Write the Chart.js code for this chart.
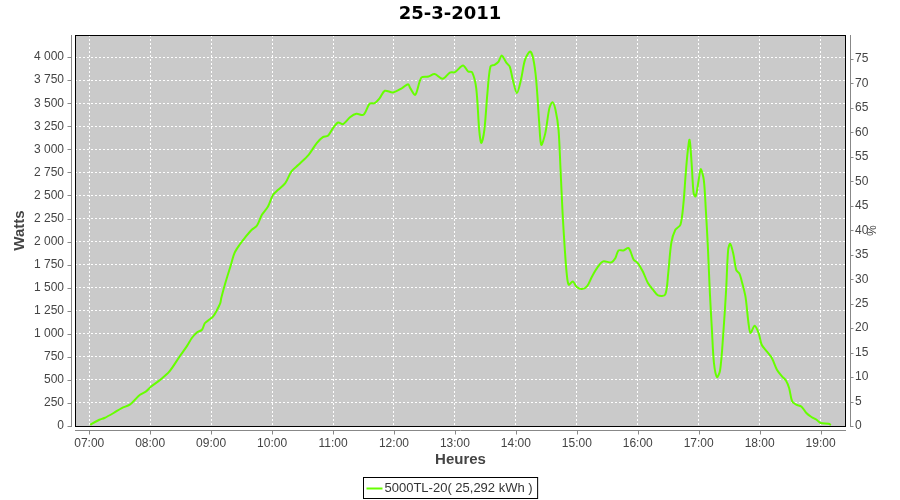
<!DOCTYPE html>
<html>
<head>
<meta charset="utf-8">
<script src="https://cdn.jsdelivr.net/npm/chart.js@4"></script>
<style>
  body { margin: 0; background: #fff; }
  #wrap { width: 900px; height: 500px; }
</style>
</head>
<body>
<div id="wrap"><canvas id="chart"></canvas></div>
<script>
// Production du 25-3-2011 (heure, puissance en watts)
const chartTitle = '25-3-2011';
const seriesLabel = '5000TL-20( 25,292 kWh )';
const times = ['07:01','07:02','07:10','07:15','07:24','07:32','07:40','07:45','07:50','07:56',
  '08:01','08:10','08:19','08:29','08:36','08:41','08:46','08:51','08:54','08:59',
  '09:02','09:05','09:09','09:10','09:14','09:19','09:23','09:28','09:33','09:40','09:45','09:50','09:56',
  '10:01','10:06','10:13','10:19','10:26','10:36','10:44','10:50','10:55',
  '11:00','11:05','11:10','11:17','11:23','11:30','11:36','11:41','11:46','11:51','11:59',
  '12:08','12:14','12:16','12:21','12:27','12:34','12:40','12:48','12:55',
  '13:00','13:08','13:13','13:17','13:21','13:24','13:26','13:29','13:32','13:35','13:39','13:43','13:46','13:51','13:54','13:57',
  '14:01','14:05','14:09','14:14','14:17','14:20','14:23','14:25','14:29','14:33','14:36','14:39','14:42','14:44','14:46','14:48','14:50','14:52','14:56',
  '15:00','15:05','15:10','15:15','15:21','15:26','15:34','15:38','15:41','15:46','15:51','15:56',
  '16:00','16:05','16:10','16:15','16:20','16:27','16:30','16:33','16:37','16:42','16:45','16:47','16:49','16:51','16:53','16:55','16:57',
  '17:00','17:02','17:05','17:07','17:09','17:11','17:13','17:15','17:18','17:21','17:24','17:27','17:29','17:31','17:34','17:37','17:40','17:42','17:46','17:49','17:51','17:55','17:59',
  '18:02','18:07','18:12','18:17','18:22','18:26','18:29','18:32','18:36','18:41','18:46','18:51','18:56',
  '19:00','19:08','19:10'];
const watts = [10,20,68,87,141,195,231,285,339,375,
  429,502,592,754,863,954,1015,1044,1117,1160,
  1188,1242,1333,1388,1550,1730,1875,1965,2038,2128,2171,2290,2380,
  2507,2561,2634,2760,2833,2941,3068,3133,3147,
  3230,3291,3274,3350,3385,3375,3494,3501,3556,3635,3617,
  3664,3707,3664,3591,3779,3790,3816,3765,3833,
  3837,3909,3844,3835,3660,3200,3068,3212,3610,3898,3917,3952,4017,3935,3898,3754,
  3610,3754,3970,4060,3988,3754,3285,3049,3176,3447,3512,3429,3212,2778,2309,1947,1659,1532,1568,
  1507,1485,1514,1622,1730,1785,1774,1821,1904,1904,1930,1803,
  1767,1676,1550,1478,1416,1424,1659,1984,2128,2182,2417,2706,2959,3104,2851,2526,2489,
  2670,2786,2670,2345,1947,1442,1044,683,531,600,971,1478,1911,1976,1870,1690,1655,1586,1405,1117,1008,1087,1008,
  881,809,737,610,538,491,412,267,231,212,141,98,68,
  33,25,10];
const hourTicks = ['07:00','08:00','09:00','10:00','11:00','12:00','13:00','14:00','15:00','16:00','17:00','18:00','19:00'];
const wattTicks = [0,250,500,750,1000,1250,1500,1750,2000,2250,2500,2750,3000,3250,3500,3750,4000];
const pctTicks = [0,5,10,15,20,25,30,35,40,45,50,55,60,65,70,75];

const toMin = s => Number(s.slice(0, 2)) * 60 + Number(s.slice(3));
const fmtWatts = v => v >= 1000 ? Math.floor(v / 1000) + ' ' + String(v % 1000).padStart(3, '0') : String(v);
const fmtHour = v => String(Math.floor(v / 60)).padStart(2, '0') + ':' + String(v % 60).padStart(2, '0');

const lineColor = '#66ff00';
const tickFont = { family: 'Liberation Sans', size: 12 };
const gridOpts = { color: '#ffffff', lineWidth: 1, drawTicks: false };

// fond gris, cadre, axes décalés, titre et légende
const decor = {
  id: 'decor',
  beforeDraw(chart) {
    const { ctx, chartArea: a } = chart;
    ctx.save();
    ctx.fillStyle = '#cacaca';
    ctx.fillRect(a.left, a.top, a.right - a.left, a.bottom - a.top);
    ctx.restore();
  },
  afterDraw(chart) {
    const { ctx, chartArea: a, scales } = chart;
    ctx.save();
    ctx.strokeStyle = '#000';
    ctx.lineWidth = 1;
    ctx.strokeRect(a.left + 0.5, a.top + 0.5, a.right - a.left - 1, a.bottom - a.top);

    ctx.strokeStyle = '#888';
    ctx.beginPath();
    // axe gauche
    const lx = a.left - 3.5;
    ctx.moveTo(lx, a.top); ctx.lineTo(lx, a.bottom + 1);
    scales.y.ticks.forEach(t => {
      const py = Math.round(scales.y.getPixelForValue(t.value)) + 0.5;
      ctx.moveTo(lx - 4, py); ctx.lineTo(lx, py);
    });
    // axe droit
    const rx = a.right + 4.5;
    ctx.moveTo(rx, a.top); ctx.lineTo(rx, a.bottom + 1);
    scales.y1.ticks.forEach(t => {
      const py = Math.round(scales.y1.getPixelForValue(t.value)) + 0.5;
      ctx.moveTo(rx, py); ctx.lineTo(rx + 3, py);
    });
    // axe bas
    const by = a.bottom + 4.5;
    ctx.moveTo(a.left, by); ctx.lineTo(a.right, by);
    scales.x.ticks.forEach(t => {
      const px = Math.round(scales.x.getPixelForValue(t.value)) + 0.5;
      ctx.moveTo(px, by); ctx.lineTo(px, by + 4);
    });
    ctx.stroke();

    // titre
    ctx.fillStyle = '#000';
    ctx.font = 'bold 18px "DejaVu Sans"';
    ctx.textAlign = 'center';
    ctx.textBaseline = 'middle';
    ctx.fillText(chartTitle, 450, 14);

    // légende
    ctx.font = '13px "Liberation Sans"';
    const tw = ctx.measureText(seriesLabel).width;
    const bw = tw + 26, bh = 21;
    const bx = Math.round(450 - bw / 2) + 0.5, byy = 477.5;
    ctx.strokeStyle = '#000';
    ctx.strokeRect(bx, byy, bw, bh);
    ctx.strokeStyle = lineColor;
    ctx.lineWidth = 2;
    ctx.beginPath();
    ctx.moveTo(bx + 3, byy + 11); ctx.lineTo(bx + 19, byy + 11);
    ctx.stroke();
    ctx.fillStyle = '#333';
    ctx.textAlign = 'left';
    ctx.fillText(seriesLabel, bx + 21, byy + 11);
    ctx.restore();
  }
};

new Chart(document.getElementById('chart'), {
  type: 'line',
  data: {
    datasets: [{
      label: seriesLabel,
      data: times.map((t, i) => ({ x: toMin(t), y: watts[i] })),
      borderColor: lineColor,
      borderWidth: 2,
      pointRadius: 0,
      tension: 0.3,
      fill: false,
      yAxisID: 'y'
    }]
  },
  options: {
    responsive: true,
    maintainAspectRatio: false,
    animation: false,
    layout: { padding: { top: 35, left: 0, right: 0, bottom: 0 } },
    plugins: { legend: { display: false }, title: { display: false }, tooltip: { enabled: false } },
    scales: {
      x: {
        type: 'linear',
        min: 406,
        max: 1165,
        afterFit: s => { s.height = 74; },
        afterBuildTicks: s => { s.ticks = hourTicks.map(h => ({ value: toMin(h) })); },
        ticks: { callback: v => fmtHour(v), color: '#444', font: tickFont, padding: 10, maxRotation: 0, autoSkip: false },
        grid: { ...gridOpts },
        border: { display: false, dash: [2, 2] },
        title: { display: true, text: 'Heures', color: '#444', font: { family: 'Liberation Sans', size: 15, weight: 'bold' }, padding: { top: 0, bottom: 31 } }
      },
      y: {
        position: 'left',
        min: 0,
        max: 4240,
        afterFit: s => { s.width = 75; },
        afterBuildTicks: s => { s.ticks = wattTicks.map(v => ({ value: v })); },
        ticks: { callback: v => fmtWatts(v), color: '#444', font: tickFont, padding: 11, autoSkip: false },
        grid: { ...gridOpts },
        border: { display: false, dash: [2, 2] },
        title: { display: true, text: 'Watts', color: '#444', font: { family: 'Liberation Sans', size: 15, weight: 'bold' }, padding: { top: 11, bottom: 0 } }
      },
      y1: {
        position: 'right',
        min: 0,
        max: 79.9,
        afterFit: s => { s.width = 54; },
        afterBuildTicks: s => { s.ticks = pctTicks.map(v => ({ value: v })); },
        ticks: { color: '#444', font: tickFont, padding: 9, autoSkip: false },
        grid: { display: false, drawTicks: false },
        border: { display: false },
        title: { display: true, text: '%', color: '#444', font: { family: 'Liberation Sans', size: 12 }, padding: { top: 22, bottom: 0 } }
      }
    }
  },
  plugins: [decor]
});
</script>
</body>
</html>
